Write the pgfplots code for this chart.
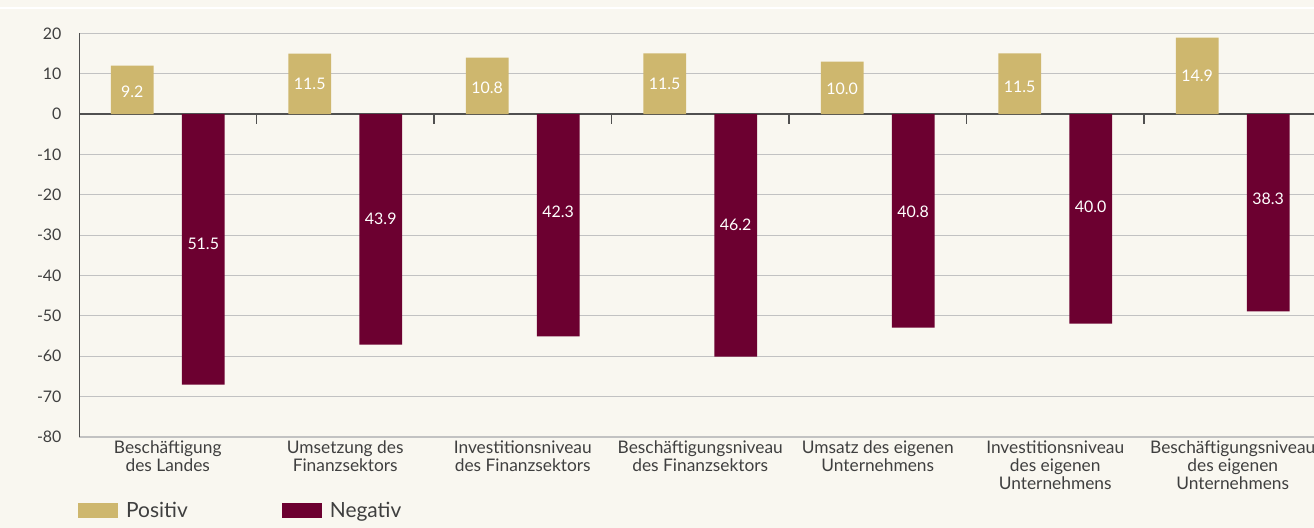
\documentclass[border=0pt]{standalone}
\usepackage{fontspec}
\setmainfont{Lato}
\usepackage{pgfplots}
\pgfplotsset{compat=1.18}
\definecolor{bg}{HTML}{F9F7F0}
\definecolor{pos}{HTML}{CEB76E}
\definecolor{neg}{HTML}{6C0030}
\definecolor{gridc}{HTML}{C2C2C2}
\definecolor{axc}{HTML}{505050}
\definecolor{txt}{HTML}{3F3F3F}
\begin{document}
\begin{tikzpicture}
\path[use as bounding box, fill=bg] (-79bp,-91bp) rectangle (1235bp,437bp);
\draw[white, line width=2bp] (-79bp,428.5bp) -- (1235bp,428.5bp);
\begin{axis}[
  at={(0,0)}, anchor=south west,
  width=1235bp, height=403.7bp, scale only axis,
  xmin=-0.5, xmax=6.458, ymin=-80, ymax=20,
  axis line style={draw=none},
  ymajorgrids, grid style={gridc, line width=1.2bp},
  ytick={-80,-70,...,20},
  yticklabels={-80,-70,-60,-50,-40,-30,-20,-10,0,10,20},
  yticklabel style={font=\fontsize{16}{19}\selectfont, text=txt, xshift=-14bp},
  ytick style={draw=none},
  xtick={0,...,6},
  xticklabels={{Beschäftigung\\des Landes},{Umsetzung des\\Finanzsektors},{Investitionsniveau\\des Finanzsektors},{Beschäftigungsniveau\\des Finanzsektors},{Umsatz des eigenen\\Unternehmens},{Investitionsniveau\\des eigenen\\Unternehmens},{Beschäftigungsniveau\\des eigenen\\Unternehmens}},
  xticklabel style={font=\fontsize{17.4}{18}\selectfont, text=txt, align=center, anchor=north, inner sep=3.5pt},
  xtick style={draw=none},
  myleg/.style={legend image code/.code={\fill[##1] (0bp,-7.5bp) rectangle (40bp,7.5bp);}},
  legend style={at={(-0.0008,-0.182)}, anchor=west, draw=none, fill=none, inner sep=0pt,
    font=\fontsize{21}{24}\selectfont, text=txt,
    /tikz/every odd column/.append style={column sep=6bp},
    /tikz/every even column/.append style={column sep=92bp}},
  legend columns=-1,
]
\draw[axc, line width=1.5bp] (axis cs:-0.5,0) -- (axis cs:6.458,0);
\pgfplotsinvokeforeach{0.5,1.5,2.5,3.5,4.5,5.5}{\draw[axc, line width=1.3bp] (axis cs:#1,0) -- (axis cs:#1,-2.48);}
\addplot[ybar, bar width=0.242, bar shift=-0.2, fill=pos, draw=none, myleg]
  coordinates {(0,12.0) (1,14.95) (2,13.96) (3,15.0) (4,13.0) (5,15.0) (6,18.9)};
\addlegendentry{Positiv}
\addplot[ybar, bar width=0.242, bar shift=0.2, fill=neg, draw=none, myleg]
  coordinates {(0,-67.0) (1,-57.1) (2,-55.1) (3,-60.1) (4,-52.9) (5,-51.9) (6,-48.9)};
\addlegendentry{Negativ}
\addplot[forget plot, draw=none, mark=none, nodes near coords, point meta=explicit symbolic,
  nodes near coords style={font=\fontsize{16}{19}\selectfont, text=white, anchor=center, inner sep=0pt}]
  coordinates {(-0.2,5.4)[9.2] (0.8,7.4)[11.5] (1.8,6.4)[10.8] (2.8,7.4)[11.5] (3.8,6.2)[10.0] (4.8,6.7)[11.5] (5.8,9.5)[14.9]};
\addplot[forget plot, draw=none, mark=none, nodes near coords, point meta=explicit symbolic,
  nodes near coords style={font=\fontsize{16}{19}\selectfont, text=white, anchor=center, inner sep=0pt}]
  coordinates {(0.2,-32.2)[51.5] (1.2,-26.0)[43.9] (2.2,-24.1)[42.3] (3.2,-27.5)[46.2] (4.2,-24.2)[40.8] (5.2,-23.0)[40.0] (6.2,-21.1)[38.3]};
\draw[axc, line width=1.5bp] (rel axis cs:0,0) -- (rel axis cs:0,1);
\end{axis}
\end{tikzpicture}
\end{document}
